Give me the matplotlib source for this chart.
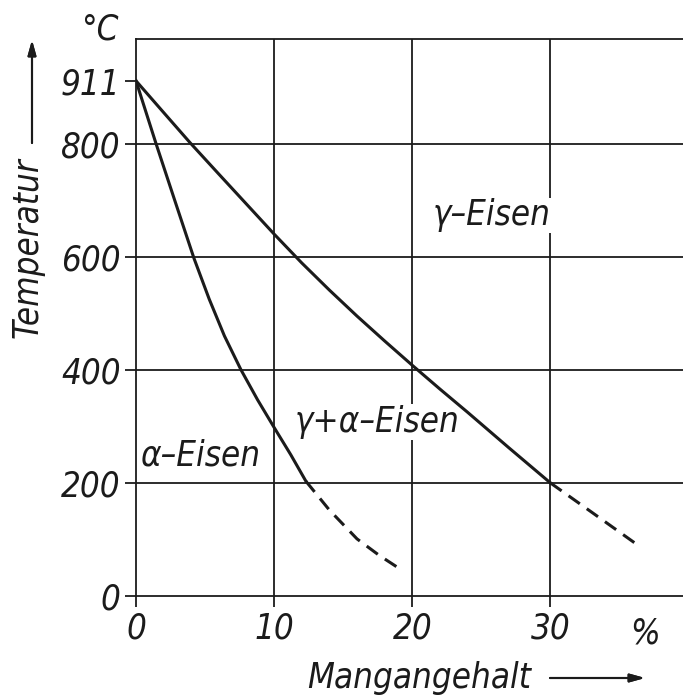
import matplotlib.pyplot as plt
from matplotlib.ticker import FixedLocator

# Fe-Mn: Umwandlungslinien (Gehalt in %, Temperatur in °C)
gamma_grenze_x = [0, 2, 3.9, 6, 8, 10, 12, 14, 16, 18, 20, 22, 24, 27, 30]
gamma_grenze_t = [911, 855, 802, 746, 693, 640, 589, 541, 495, 451, 408, 366, 325, 262, 200]
gamma_grenze_x_gestr = [30, 33, 36.5]
gamma_grenze_t_gestr = [200, 148, 87]

alpha_grenze_x = [0, 1.45, 2.8, 4.2, 5.3, 6.4, 7.6, 8.8, 10, 11.2, 12.3]
alpha_grenze_t = [911, 800, 700, 597, 525, 460, 400, 347, 298, 250, 203]
alpha_grenze_x_gestr = [12.3, 14, 16, 17.6, 19.1]
alpha_grenze_t_gestr = [203, 152, 101, 72, 48]

x_ticks = [0, 10, 20, 30]
y_ticks = [0, 200, 400, 600, 800, 911]
y_grid = [200, 400, 600, 800]
x_grid = [10, 20, 30]

W, H = 683, 697
schrift = dict(family="DejaVu Sans", style="italic", stretch="condensed")
ink = "#1b1b1b"

fig = plt.figure(figsize=(W / 100, H / 100), dpi=100)
ax = fig.add_axes([136 / W, 101 / H, 1 - 136 / W, 557 / H])
ax.set_xlim(0, 39.6)
ax.set_ylim(0, 985)

# Raster
for gx in x_grid:
    ax.axvline(gx, color=ink, lw=1.3, zorder=1)
for gy in y_grid:
    ax.axhline(gy, color=ink, lw=1.3, zorder=1)

for s in ["left", "bottom", "top"]:
    ax.spines[s].set_color(ink)
    ax.spines[s].set_linewidth(1.3)
ax.spines["right"].set_visible(False)

ax.xaxis.set_major_locator(FixedLocator(x_ticks))
ax.yaxis.set_major_locator(FixedLocator(y_ticks))
ax.tick_params(direction="out", length=8, width=1.3, color=ink, pad=3)
for lbl in ax.get_xticklabels() + ax.get_yticklabels():
    lbl.set_fontsize(25)
    lbl.set_fontstyle("italic")
    lbl.set_fontstretch("condensed")
    lbl.set_color(ink)

# Kurven
ax.plot(gamma_grenze_x, gamma_grenze_t, color=ink, lw=2.2, zorder=3,
        solid_joinstyle="round")
ax.plot(gamma_grenze_x_gestr, gamma_grenze_t_gestr, color=ink, lw=2.2,
        dashes=(4.5, 2.8), zorder=3)
ax.plot(alpha_grenze_x, alpha_grenze_t, color=ink, lw=2.2, zorder=3,
        solid_joinstyle="round")
ax.plot(alpha_grenze_x_gestr, alpha_grenze_t_gestr, color=ink, lw=2.2,
        dashes=(4.5, 2.8), zorder=3)

box = dict(facecolor="white", edgecolor="none", pad=0.5)
ax.text(21.5, 673, "γ–Eisen", fontsize=25, color=ink, va="center", ha="left",
        bbox=box, zorder=2, **schrift)
ax.text(11.5, 308, "γ+α–Eisen", fontsize=25, color=ink, va="center", ha="left",
        bbox=box, zorder=2, **schrift)
ax.text(0.3, 248, "α–Eisen", fontsize=25, color=ink, va="center", ha="left",
        bbox=box, zorder=2, **schrift)

# Einheiten
fig.text(645 / W, 1 - 633 / H, "%", fontsize=25, color=ink, ha="center",
         va="center", **schrift)
fig.text(100 / W, 1 - 30 / H, "°C", fontsize=25, color=ink, ha="center",
         va="center", **schrift)

# Achsbeschriftungen mit Pfeilen
fig.text(28 / W, 1 - 248 / H, "Temperatur", fontsize=25, color=ink,
         rotation=90, ha="center", va="center", **schrift)
fig.text(419 / W, 1 - 678 / H, "Mangangehalt", fontsize=25, color=ink,
         ha="center", va="center", **schrift)
pfeil = dict(arrowstyle="-|>,head_length=0.9,head_width=0.25", color=ink,
             lw=1.5, shrinkA=0, shrinkB=0)
fig.add_artist(plt.annotate("", xy=(32 / W, 1 - 40 / H),
                            xytext=(32 / W, 1 - 143 / H),
                            xycoords="figure fraction", arrowprops=pfeil))
fig.add_artist(plt.annotate("", xy=(645 / W, 1 - 678 / H),
                            xytext=(550 / W, 1 - 678 / H),
                            xycoords="figure fraction", arrowprops=pfeil))

fig.savefig("out.png", dpi=100)
